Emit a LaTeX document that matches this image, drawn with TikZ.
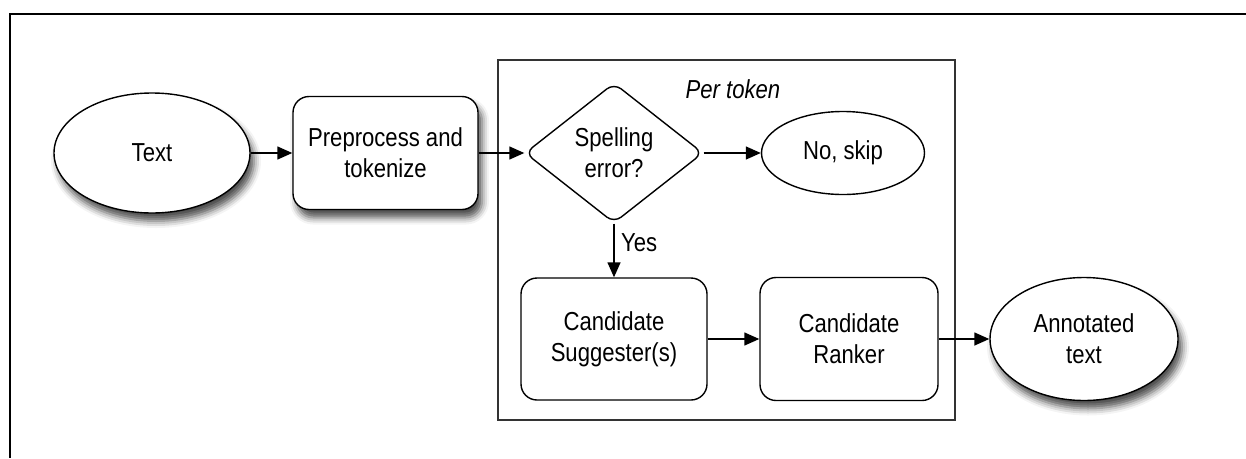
\documentclass[tikz,border=0pt]{standalone}
\usepackage{fontspec}
\setmainfont[FakeStretch=0.85]{Liberation Sans}
\usetikzlibrary{shapes.geometric,arrows.meta,shadows.blur}
\begin{document}
\begin{tikzpicture}[x=1pt,y=-1pt,
  every node/.style={font=\fontsize{26}{31}\selectfont, align=center},
  shad/.style={blur shadow={shadow xshift=4pt, shadow yshift=-8pt, shadow blur radius=7pt, shadow opacity=70}},
  ell/.style={draw, line width=1.4pt, ellipse, fill=white, inner sep=0pt},
  rbox/.style={draw, line width=1.4pt, rounded corners=16pt, fill=white, inner sep=0pt},
  dia/.style={draw, line width=1.4pt, diamond, rounded corners=9pt, fill=white, inner sep=0pt},
  conn/.style={line width=1.4pt, -{Triangle[length=15pt,width=13pt]}},
  frame/.style={draw=black!80, line width=1.6pt, inner sep=0pt}]
\useasboundingbox (0,0) rectangle (1246,458);
% outer frame (top and left edges)
\coordinate (fa) at (1246,14);
\coordinate (fb) at (10,14);
\coordinate (fc) at (10,458);
\draw[line width=2pt] (fa) -- (fb) -- (fc);
% per-token frame
\node[frame, minimum width=457pt, minimum height=360pt] (pt) at (726.5,240) {};
\node[font=\fontsize{26}{31}\selectfont\itshape] (ptl) at (733,89) {Per token};
% nodes
\node[ell, shad, minimum width=196pt, minimum height=120pt] (text) at (152,153) {Text};
\node[rbox, shad, minimum width=185pt, minimum height=113pt] (prep) at (385.5,153) {Preprocess and\\tokenize};
\node[dia, minimum width=178pt, minimum height=140pt] (sp) at (614,153) {Spelling\\error?};
\node[ell, minimum width=163pt, minimum height=83pt] (skip) at (843,153) {No, skip};
\node[rbox, minimum width=186pt, minimum height=122pt] (sugg) at (614,339) {Candidate\\Suggester(s)};
\node[rbox, minimum width=178pt, minimum height=123pt] (rank) at (849,339) {Candidate\\Ranker};
\node[ell, shad, minimum width=188pt, minimum height=123pt] (ann) at (1084,339) {Annotated\\text};
% connectors
\draw[conn] (text) -- (prep);
\draw[conn] (prep) -- (sp);
\draw[conn] (sp) -- (skip);
\draw[conn] (sp) -- node[right=3pt, pos=0.35] (yes) {Yes} (sugg);
\draw[conn] (sugg) -- (rank);
\draw[conn] (rank) -- (ann);
\end{tikzpicture}
\end{document}
